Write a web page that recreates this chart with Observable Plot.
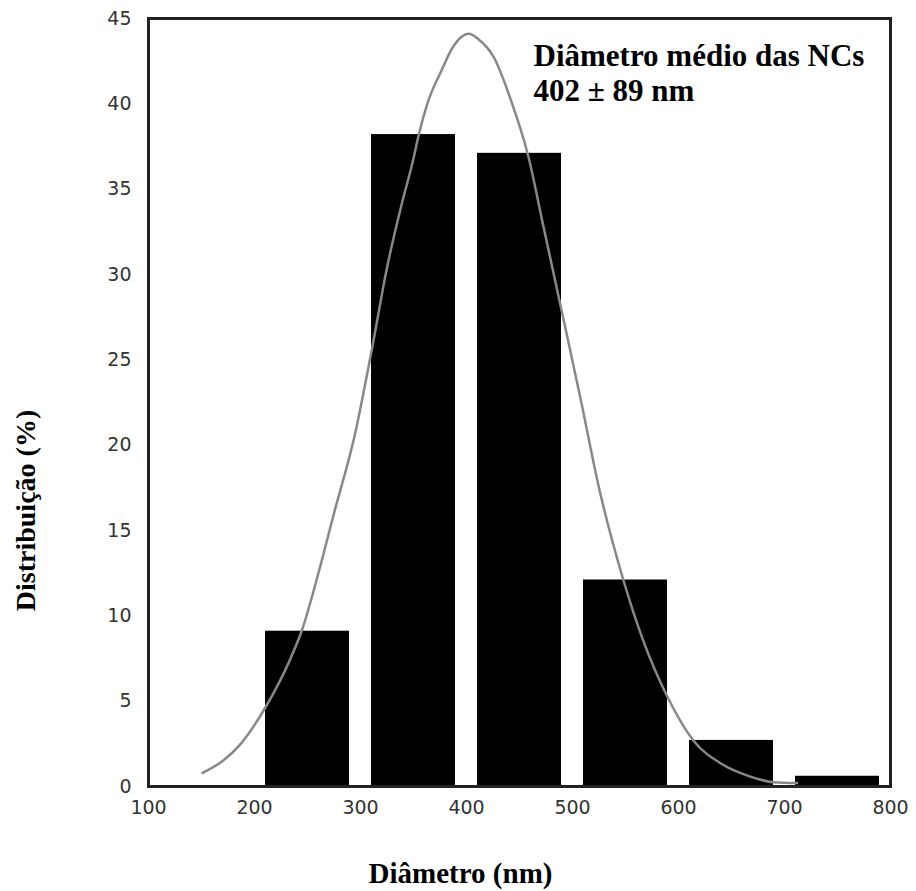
<!DOCTYPE html>
<html>
<head>
<meta charset="utf-8">
<script src="https://cdn.jsdelivr.net/npm/d3@7"></script>
<script src="https://cdn.jsdelivr.net/npm/@observablehq/plot@0.6"></script>
<style>
  html, body { margin: 0; padding: 0; background: #fff; }
</style>
</head>
<body>
<div id="chart"></div>
<script>
// Histogram bins (nm) and distribution (%)
const binLow  = [200, 300, 400, 500, 600, 700];
const binHigh = [300, 400, 500, 600, 700, 800];
const distribution = [9.1, 38.2, 37.1, 12.1, 2.7, 0.6];

// Fitted distribution curve
const curveDiameter = [151, 170, 187, 210, 234, 245, 259, 275, 295, 311, 325, 338, 350, 355, 363, 376, 388, 402, 411, 426, 442, 458, 473, 489, 508, 525, 548, 567, 590, 614, 640, 665, 690, 712];
const curveValue    = [0.8, 1.5, 2.5, 4.6, 7.5, 9.2, 12.2, 16.0, 20.7, 25.7, 30.4, 33.9, 36.8, 38.2, 40.0, 41.9, 43.4, 44.1, 43.8, 42.7, 40.2, 37.0, 32.7, 28.1, 22.6, 17.5, 12.1, 8.5, 5.2, 2.7, 1.35, 0.64, 0.25, 0.2];

const xTicks = [100, 200, 300, 400, 500, 600, 700, 800];
const yTicks = [0, 5, 10, 15, 20, 25, 30, 35, 40, 45];

const xTitle = "Diâmetro (nm)";
const yTitle = "Distribuição (%)";
const note = "Diâmetro médio das NCs\n402 ± 89 nm";

const bins = binLow.map((lo, i) => ({lo, hi: binHigh[i], v: distribution[i]}));
const curve = curveDiameter.map((d, i) => ({d, v: curveValue[i]}));

const serif = "'Liberation Serif', 'Times New Roman', serif";

const chart = Plot.plot({
  width: 916,
  height: 891,
  marginLeft: 148,
  marginRight: 26,
  marginTop: 18,
  marginBottom: 105,
  style: {background: "#fff", fontFamily: "'DejaVu Sans', Verdana, sans-serif", fontSize: "19px"},
  x: {domain: [100, 800]},
  y: {domain: [0, 45]},
  marks: [
    Plot.rectY(bins, {x1: "lo", x2: "hi", y: "v", fill: "#000", insetLeft: 11, insetRight: 11}),
    Plot.line(curve, {x: "d", y: "v", stroke: "#888", strokeWidth: 2.5, curve: "monotone-x"}),
    Plot.frame({stroke: "#222", strokeWidth: 3}),
    Plot.axisX({ticks: xTicks, tickSize: 0, tickPadding: 14, color: "#333", label: null}),
    Plot.axisY({ticks: yTicks, tickSize: 0, tickPadding: 17, color: "#333", label: null}),
    Plot.text([xTitle], {frameAnchor: "bottom", dx: -59, dy: 87, textAnchor: "middle", lineAnchor: "middle", fontFamily: serif, fontWeight: "bold", fontSize: 29, fill: "#000"}),
    Plot.text([yTitle], {frameAnchor: "left", rotate: -90, dx: -122, dy: 108, textAnchor: "middle", lineAnchor: "middle", fontFamily: serif, fontWeight: "bold", fontSize: 28, fill: "#000"}),
    Plot.text([note], {frameAnchor: "top-left", dx: 385, dy: 22, textAnchor: "start", lineAnchor: "top", lineHeight: 1.14, fontFamily: serif, fontWeight: "bold", fontSize: 31, fill: "#000"})
  ]
});
document.getElementById("chart").appendChild(chart);
</script>
</body>
</html>
